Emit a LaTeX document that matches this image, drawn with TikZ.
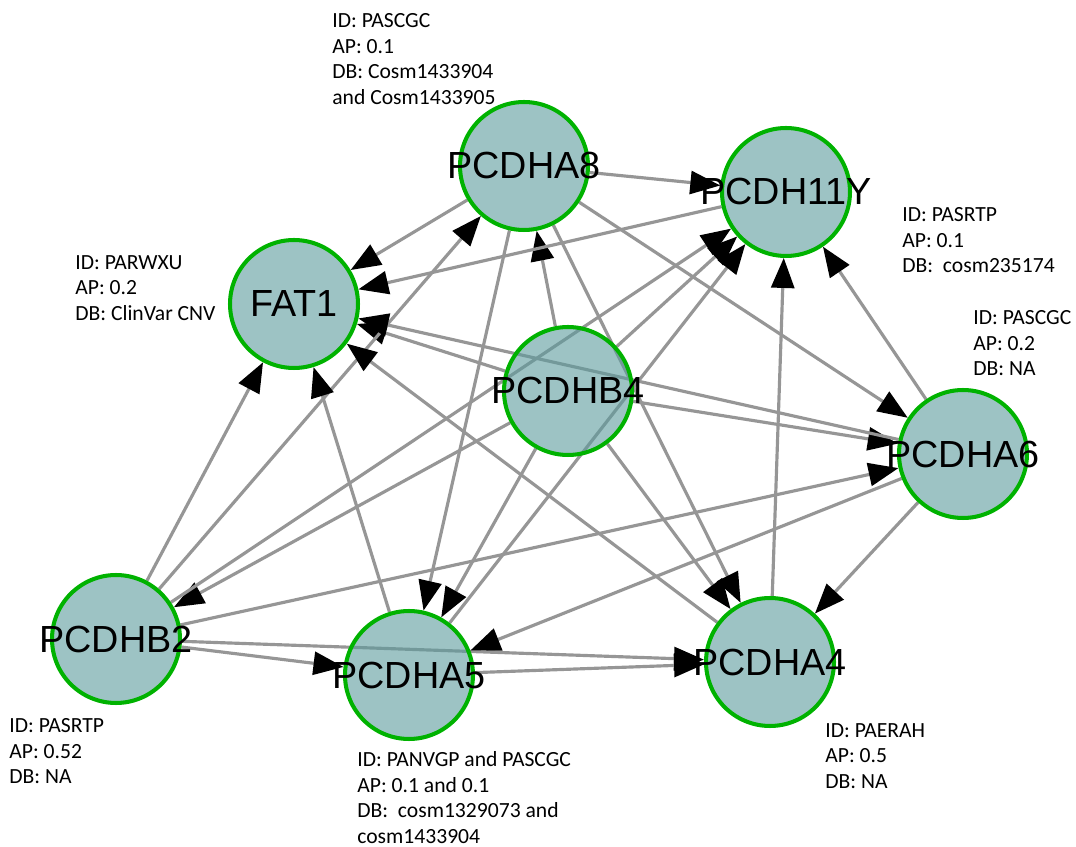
\documentclass[tikz,border=0pt]{standalone}
\usepackage{fontspec}
\usepackage{tikz}
\usetikzlibrary{arrows.meta,backgrounds}

\newfontfamily\genefont{Liberation Sans}
\newfontfamily\notefont{Carlito}
\definecolor{nodegreen}{RGB}{0,178,0}
\definecolor{nodefill}{RGB}{92,155,157}
\definecolor{linkgray}{RGB}{150,150,150}
\newcommand{\genename}[1]{\makebox[0pt]{#1}}

\tikzset{
    gene/.style={circle,draw=nodegreen,line width=2.3pt,fill=nodefill,fill opacity=0.6,text opacity=1,
        minimum size=2.56cm,inner sep=0pt,font=\genefont\fontsize{21.5}{25}\selectfont},
    link/.style={draw=linkgray,line width=1.8pt,-{Triangle[length=0.6cm,width=0.46cm,color=black]}},
    note/.style={anchor=north west,inner sep=0pt,align=left,font=\notefont\fontsize{12.3}{14.6}\selectfont}
}

\begin{document}
\begin{tikzpicture}[x=0.02cm,y=-0.02cm]
    \useasboundingbox (0,0) rectangle (1076,847);

    % genes
    \node[gene] (pcdha8) at (524,166) {\genename{PCDHA8}};
    \node[gene] (pcdh11y) at (786,192) {\genename{PCDH11Y}};
    \node[gene] (fat1) at (294,304) {\genename{FAT1}};
    \node[gene] (pcdhb4) at (568,391) {\genename{PCDHB4}};
    \node[gene] (pcdha6) at (963,454) {\genename{PCDHA6}};
    \node[gene] (pcdhb2) at (116,639) {\genename{PCDHB2}};
    \node[gene] (pcdha5) at (409,675) {\genename{PCDHA5}};
    \node[gene] (pcdha4) at (770,662) {\genename{PCDHA4}};

    % annotations
    \node[note] (notea8) at (332,13) {ID: PASCGC\\AP: 0.1\\DB: Cosm1433904\\and Cosm1433905};
    \node[note] (notefat1) at (75,255) {ID: PARWXU\\AP: 0.2\\DB: ClinVar CNV};
    \node[note] (note11y) at (902,207) {ID: PASRTP\\AP: 0.1\\DB: \ cosm235174};
    \node[note] (notea6) at (973,310) {ID: PASCGC\\AP: 0.2\\DB: NA};
    \node[note] (noteb2) at (9,718) {ID: PASRTP\\AP: 0.52\\DB: NA};
    \node[note] (notea5) at (357,751) {ID: PANVGP and PASCGC\\AP: 0.1 and 0.1\\DB: \ cosm1329073 and\\cosm1433904};
    \node[note] (notea4) at (825,723) {ID: PAERAH\\AP: 0.5\\DB: NA};

    % interactions
    \begin{pgfonlayer}{background}
    \draw[link] (pcdha8) -- (pcdh11y);
    \draw[link] (pcdha8) -- (fat1);
    \draw[link] (pcdha8) -- (pcdha5);
    \draw[link] (pcdha8) -- (pcdha4);
    \draw[link] (pcdha8) -- (pcdha6);
    \draw[link] (pcdhb4) -- (pcdha8);
    \draw[link] (pcdhb4) -- (fat1);
    \draw[link] (pcdhb4) -- (pcdh11y);
    \draw[link] (pcdhb4) -- (pcdha6);
    \draw[link] (pcdhb4) -- (pcdhb2);
    \draw[link] (pcdhb4) -- (pcdha5);
    \draw[link] (pcdhb4) -- (pcdha4);
    \draw[link] (pcdhb2) -- (fat1);
    \draw[link] (pcdhb2) -- (pcdha8);
    \draw[link] (pcdhb2) -- (pcdh11y);
    \draw[link] (pcdhb2) -- (pcdha6);
    \draw[link] (pcdhb2) -- (pcdha5);
    \draw[link] (pcdhb2) -- (pcdha4);
    \draw[link] (pcdha6) -- (fat1);
    \draw[link] (pcdha6) -- (pcdh11y);
    \draw[link] (pcdha6) -- (pcdha5);
    \draw[link] (pcdha6) -- (pcdha4);
    \draw[link] (pcdha5) -- (fat1);
    \draw[link] (pcdha5) -- (pcdh11y);
    \draw[link] (pcdha5) -- (pcdha4);
    \draw[link] (pcdha4) -- (pcdh11y);
    \draw[link] (pcdha4) -- (fat1);
    \draw[link] (pcdh11y) -- (fat1);
    \end{pgfonlayer}
\end{tikzpicture}
\end{document}
